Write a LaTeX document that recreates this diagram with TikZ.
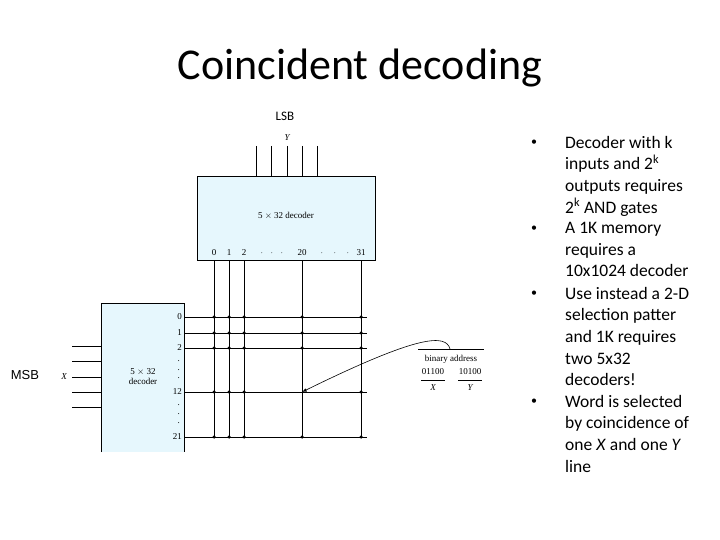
\documentclass[tikz,border=0pt]{standalone}
\usepackage{fontspec}
\setmainfont{Carlito}
\newfontfamily\dfont{Liberation Serif}
\newfontfamily\msbfont{Liberation Sans}
\newcommand{\supk}{\smash{\textsuperscript{k}}}
\begin{document}
\begin{tikzpicture}[x=1pt,y=-1pt,
  dec/.style={fill=cyan!10,draw=black,line width=0.9pt},
  wire/.style={line width=0.9pt},
  thin/.style={line width=0.6pt},
  dot/.style={circle,fill=black,inner sep=0pt,minimum size=3.5pt},
  lab/.style={font=\dfont\fontsize{9}{10}\selectfont,inner sep=0pt},
  bul/.style={font=\fontsize{17.5}{21.6}\selectfont,align=left,anchor=north west,inner sep=0pt},
  bdot/.style={font=\fontsize{12}{21.6}\selectfont,anchor=north west,inner sep=0pt}]
\useasboundingbox (0,0) rectangle (720,540);
\node (title) at (360,68) {\fontsize{44}{48}\selectfont Coincident decoding};
\node (lsb) at (285,116) {\fontsize{13}{15}\selectfont LSB};
\node (msb) at (25,375) {\msbfont\fontsize{13}{15}\selectfont MSB};
% top decoder
\node[dec,minimum width=178pt,minimum height=84pt,anchor=north west,inner sep=0pt] (yd) at (197,176) {};
\node[lab] (ydl) at (286,216) {5 $\times$ 32 decoder};
\node[lab,font=\dfont\itshape\fontsize{9}{10}\selectfont] (ylab) at (287,138) {Y};
\foreach \x in {256,271,287,302,317}{\coordinate (yi\x) at (\x,146); \draw[thin] (yi\x) -- (\x,176);}
% left decoder
\fill[cyan!10] (101,303) rectangle (184,452);
\draw[line width=0.9pt] (101,452) -- (101,303) -- (184,303) -- (184,452);
\node[lab,align=center] (xdl) at (143,377) {5 $\times$ 32\\decoder};
\node[lab,font=\dfont\itshape\fontsize{9}{10}\selectfont] (xlab) at (64,377) {X};
\foreach \y in {346,361,377,392,407}{\coordinate (xi\y) at (72,\y); \draw[thin] (xi\y) -- (101,\y);}
% column labels
\foreach \x/\t in {214/0,229/1,244/2,302/20,361/31}{\node[lab] (c\t) at (\x,253) {\t};}
\foreach \x in {262,272,282,322,335,348}{\node[lab] at (\x,253) {$\cdot$};}
% row labels
\foreach \y/\t in {317/0,333/1,348/2,392/12,437/21}{\node[lab,anchor=east] (r\t) at (182,\y) {\t};}
\foreach \y in {361,370,378,405,414,423}{\node[lab,anchor=east] at (180,\y) {.};}
% grid
\foreach \x in {214,229,244,302,361}{\draw[wire] (\x,260) -- (\x,437);}
\foreach \y in {317,333,348,392,437}{\draw[thin] (184,\y) -- (367,\y);}
\foreach \x in {214,229,244,302,361}{\foreach \y in {317,333,348,437}{\node[dot] at (\x,\y) {};}}
\foreach \x in {214,229,244,361}{\node[dot] at (\x,392) {};}
\coordinate (target) at (302,392);
% binary address
\draw[thin] (418,349) -- (484,349);
\node[lab] (ba) at (451,359) {binary address};
\node[lab] (xa) at (433,372) {01100};
\node[lab] (ya) at (470,372) {10100};
\draw[thin] (421,380) -- (445,380);
\draw[thin] (458,380) -- (482,380);
\node[lab,font=\dfont\itshape\fontsize{9}{10}\selectfont] (xl) at (433,388) {X};
\node[lab,font=\dfont\itshape\fontsize{9}{10}\selectfont] (yl) at (470,388) {Y};
\coordinate (bs) at (450,349);
\draw[thin,-latex] (bs) .. controls (446,334) and (420,334) .. (target);
% bullets
\foreach \y/\n in {140/1,226/2,291/3,399/4}{\node[bdot] (d\n) at (531,\y) {•};}
\node[bul] (b1) at (565,136) {Decoder with k\\inputs and 2\supk\\outputs requires\\2\supk{} AND gates};
\node[bul] (b2) at (565,222) {A 1K memory\\requires a\\10x1024 decoder};
\node[bul] (b3) at (565,287) {Use instead a 2-D\\selection patter\\and 1K requires\\two 5x32\\decoders!};
\node[bul] (b4) at (565,395) {Word is selected\\by coincidence of\\one \textit{X} and one \textit{Y}\\line};
\end{tikzpicture}
\end{document}
